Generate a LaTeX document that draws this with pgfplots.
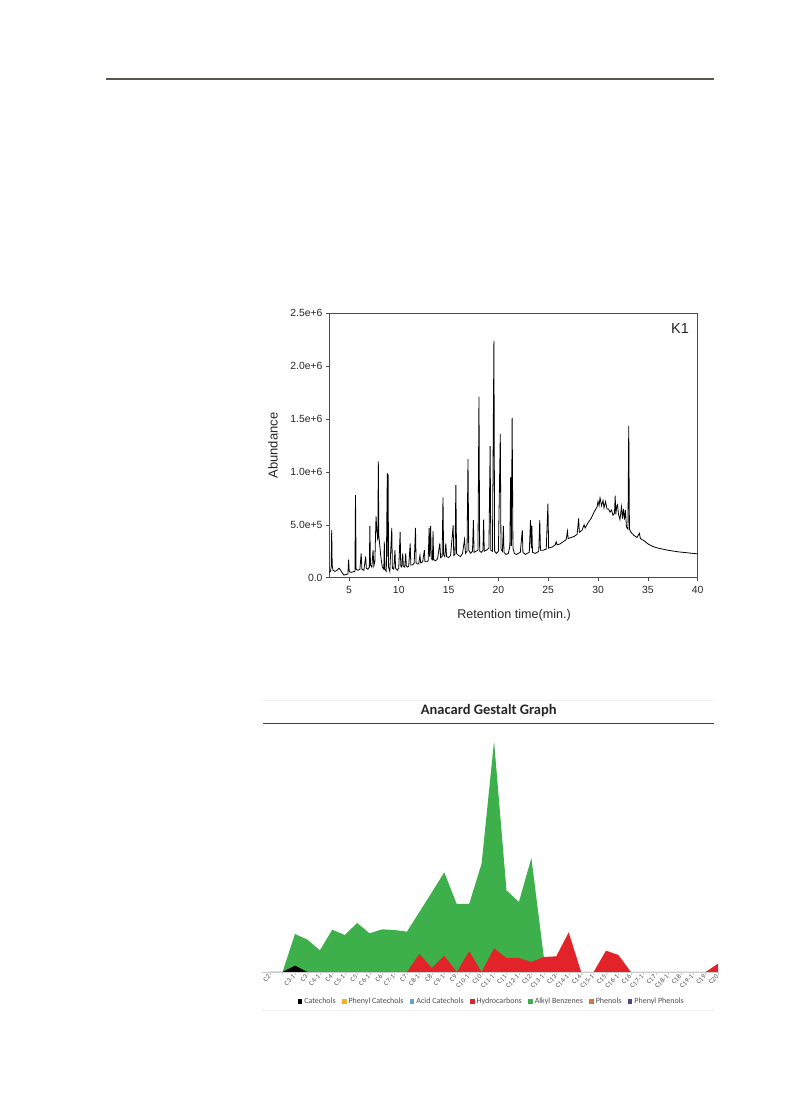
\documentclass[border=0pt]{standalone}
\usepackage{pgfplots}
\pgfplotsset{compat=1.18}
\usepackage{fontspec}
\setmainfont{Liberation Sans}
\newfontfamily\carlito{Carlito}
\definecolor{abgreen}{HTML}{3DB04B}
\definecolor{hcred}{HTML}{E3232A}
\definecolor{phcat}{HTML}{F0B030}
\definecolor{accat}{HTML}{5BA5D8}
\definecolor{phen}{HTML}{E07040}
\definecolor{phph}{HTML}{5B3F8F}
\definecolor{rulebrown}{HTML}{5C534A}
\begin{document}
\begin{tikzpicture}
\path[use as bounding box] (0pt,0pt) rectangle (799pt,1093pt);
\draw[color=rulebrown, line width=1.2pt] (106pt,1014pt) -- (714pt,1014pt);
% ---------- chromatogram ----------
\begin{axis}[at={(329pt,515.3pt)}, anchor=south west, scale only axis,
  width=368.7pt, height=264.4pt,
  xmin=3, xmax=40, ymin=0, ymax=2.5e6,
  xtick={5,10,...,40},
  ytick={0,5e5,1e6,1.5e6,2e6,2.5e6},
  yticklabels={0.0,5.0e+5,1.0e+6,1.5e+6,2.0e+6,2.5e+6},
  scaled y ticks=false,
  tick align=outside, tick pos=left, major tick length=3pt,
  axis line style={draw=black!70, line width=0.8pt},
  tick style={black!70, line width=0.6pt},
  ticklabel style={font=\fontsize{10.4}{12}\selectfont, text=black!85},
  xticklabel style={yshift=-2.5pt},
  /pgf/number format/assume math mode=true,
  xlabel={Retention time(min.)}, ylabel={Abundance},
  xlabel style={font=\fontsize{12.6}{14}\selectfont, text=black!85, at={(axis description cs:0.502,-0.141)}, anchor=center},
  ylabel style={font=\fontsize{13}{15}\selectfont, text=black!85, at={(axis description cs:-0.152,0.5)}, anchor=center},
  clip=true]
\addplot[black, line width=0.8pt] coordinates {
(3.0,0.5e5)(3.15,0.6e5)(3.22,1.0e5)(3.27,4.5e5)(3.32,1.2e5)(3.4,0.7e5)(3.6,0.6e5)(3.8,0.7e5)
(4.0,0.9e5)(4.1,0.8e5)(4.3,0.5e5)(4.5,0.25e5)(4.7,0.3e5)(4.9,0.35e5)(4.97,1.7e5)(5.03,0.6e5)
(5.2,0.5e5)(5.4,0.55e5)(5.6,0.6e5)(5.66,7.8e5)(5.72,0.8e5)(5.9,0.7e5)(6.1,0.8e5)(6.23,2.3e5)
(6.3,0.8e5)(6.5,0.7e5)(6.68,2.0e5)(6.75,0.9e5)(6.9,0.8e5)(7.05,1.0e5)(7.1,4.9e5)(7.16,1.2e5)
(7.3,1.0e5)(7.42,2.6e5)(7.5,1.1e5)(7.6,1.5e5)(7.72,5.8e5)(7.8,4.5e5)(7.9,3.5e5)(7.95,11.0e5)
(8.0,4.0e5)(8.1,3.0e5)(8.2,2.0e5)(8.35,1.0e5)(8.5,0.8e5)(8.55,3.4e5)(8.6,0.8e5)(8.75,0.6e5)
(8.85,9.9e5)(8.9,2.0e5)(8.93,9.8e5)(8.98,1.0e5)(9.1,0.6e5)(9.3,4.7e5)(9.36,0.9e5)(9.5,0.8e5)
(9.62,2.6e5)(9.68,0.9e5)(9.85,0.7e5)(10.0,0.9e5)(10.14,4.3e5)(10.2,1.1e5)(10.3,1.0e5)(10.4,2.3e5)
(10.46,1.1e5)(10.6,1.0e5)(10.7,2.3e5)(10.76,1.1e5)(10.9,1.0e5)(11.0,1.1e5)(11.15,3.25e5)(11.21,1.2e5)
(11.4,1.2e5)(11.55,1.4e5)(11.68,4.7e5)(11.74,1.4e5)(11.9,1.3e5)(12.0,1.3e5)(12.13,2.1e5)(12.2,1.4e5)
(12.4,1.5e5)(12.57,2.6e5)(12.63,1.5e5)(12.8,1.5e5)(12.95,1.6e5)(13.05,4.7e5)(13.1,2.0e5)(13.2,4.9e5)
(13.26,1.8e5)(13.38,1.7e5)(13.44,4.4e5)(13.5,1.7e5)(13.7,1.6e5)(13.9,1.8e5)(14.12,3.25e5)(14.2,1.9e5)
(14.35,2.0e5)(14.44,7.6e5)(14.5,2.2e5)(14.62,2.0e5)(14.72,3.25e5)(14.8,2.0e5)(15.0,1.9e5)(15.2,2.1e5)
(15.46,4.95e5)(15.52,2.1e5)(15.65,2.2e5)(15.73,8.75e5)(15.8,2.3e5)(16.0,2.1e5)(16.2,2.0e5)(16.4,2.3e5)
(16.6,3.6e5)(16.7,2.3e5)(16.85,2.5e5)(16.95,11.2e5)(17.02,2.6e5)(17.2,2.3e5)(17.4,2.5e5)(17.49,5.45e5)
(17.56,2.4e5)(17.75,2.5e5)(17.95,2.6e5)(18.05,17.1e5)(18.12,2.5e5)(18.3,2.4e5)(18.45,2.6e5)(18.52,5.5e5)
(18.58,2.5e5)(18.8,2.6e5)(19.05,2.8e5)(19.17,12.45e5)(19.24,2.6e5)(19.4,2.5e5)(19.55,22.4e5)(19.62,2.5e5)
(19.8,2.3e5)(20.0,2.5e5)(20.19,13.6e5)(20.26,2.7e5)(20.4,2.5e5)(20.5,4.9e5)(20.56,2.4e5)(20.75,2.2e5)
(21.0,2.3e5)(21.15,3.0e5)(21.23,9.5e5)(21.3,3.0e5)(21.38,15.1e5)(21.46,2.8e5)(21.6,2.3e5)(21.8,2.2e5)
(22.0,2.3e5)(22.2,2.4e5)(22.4,4.5e5)(22.46,2.4e5)(22.7,2.2e5)(22.9,2.3e5)(23.1,2.4e5)(23.22,5.45e5)
(23.3,2.8e5)(23.36,4.9e5)(23.42,2.4e5)(23.7,2.3e5)(23.9,2.4e5)(24.05,2.5e5)(24.15,5.45e5)(24.22,2.6e5)
(24.5,2.6e5)(24.8,2.7e5)(24.97,7.0e5)(25.04,2.8e5)(25.4,2.9e5)(25.7,3.1e5)(25.8,3.4e5)(25.9,3.1e5)
(26.2,3.2e5)(26.5,3.4e5)(26.8,3.6e5)(26.93,4.4e5)(27.0,3.7e5)(27.3,3.8e5)(27.6,3.9e5)(27.9,4.1e5)
(28.05,5.6e5)(28.12,4.3e5)(28.4,4.5e5)(28.6,5.0e5)(28.7,4.7e5)(29.0,5.2e5)(29.3,5.6e5)(29.6,6.2e5)
(29.9,6.7e5)(30.0,7.2e5)(30.1,6.8e5)(30.2,7.55e5)(30.35,6.8e5)(30.5,7.3e5)(30.6,6.6e5)(30.75,7.2e5)
(30.9,6.5e5)(31.05,6.5e5)(31.2,6.2e5)(31.35,6.4e5)(31.5,5.9e5)(31.65,6.1e5)(31.72,7.75e5)(31.78,6.0e5)
(31.88,6.8e5)(31.95,6.9e5)(32.05,6.0e5)(32.2,5.5e5)(32.35,6.7e5)(32.45,5.6e5)(32.55,6.5e5)(32.65,5.5e5)
(32.75,6.4e5)(32.85,4.8e5)(33.0,4.6e5)(33.08,14.35e5)(33.15,4.6e5)(33.3,4.3e5)(33.6,4.0e5)(33.9,3.8e5)
(34.15,4.2e5)(34.25,3.7e5)(34.6,3.5e5)(35.0,3.2e5)(35.5,2.95e5)(36.0,2.8e5)(37.0,2.6e5)(38.0,2.45e5)
(39.0,2.35e5)(40.0,2.25e5)
};
\node[font=\fontsize{14.5}{16}\selectfont, text=black!85] at (axis description cs:0.952,0.944) {K1};
\end{axis}
% ---------- Anacard Gestalt Graph ----------
\begin{axis}[at={(262pt,121pt)}, anchor=south west, scale only axis,
  width=456pt, height=247pt,
  xmin=-0.65, xmax=36, ymin=0, ymax=741,
  axis y line=none, axis x line*=bottom,
  x axis line style={draw=black!20, line width=0.6pt},
  xtick={0,...,36}, ytick=\empty,
  xticklabels={C2,{},C3-1,C3,C4-1,C4,C5-1,C5,C6-1,C6,C7-1,C7,C8-1,C8,C9-1,C9,C10-1,C10,C11-1,C11,C12-1,C12,C13-1,C13,C14-1,C14,C15-1,C15,C16-1,C16,C17-1,C17,C18-1,C18,C19-1,C19,C20},
  xticklabel style={rotate=45, anchor=east, font=\carlito\fontsize{6.8}{8}\selectfont, text=black!70, inner sep=1pt},
  tick align=outside, major tick length=3pt, tick style={black!20},
  clip=true,
  legend columns=7,
  legend style={at={(axis description cs:0.504,-0.119)}, anchor=center, draw=none, fill=none,
    font=\carlito\fontsize{8}{9}\selectfont, text=black!70,
    /tikz/every even column/.append style={column sep=4.5pt}},
  legend image code/.code={\fill[#1] (0pt,-2.2pt) rectangle (4.4pt,2.2pt);}]
\addplot[fill=abgreen, draw=none, forget plot] coordinates {
(0,0)(1,0)(2,114)(3,97)(4,65)(5,127)(6,111)(7,147)(8,116)(9,128)(10,126)(11,121)
(12,180)(13,239)(14,299)(15,204)(16,204)(17,325)(18,692)(19,245)(20,210)(21,342)(22,45)
} \closedcycle;
\addplot[fill=hcred, draw=none, forget plot] coordinates {
(0,0)(11,0)(12,54)(13,12)(14,49)(15,0)(16,62)(17,0)(18,71)(19,42)(20,42)(21,30)(22,45)
(23,47)(24,119)(25,0)(26,0)(27,64)(28,51)(29,0)(35,0)(36,25)
} \closedcycle;
\addplot[fill=black, draw=none, forget plot] coordinates {
(1,0)(2,19)(3,0)
} \closedcycle;
\addlegendimage{fill=black, draw=none}
\addlegendentry{Catechols}
\addlegendimage{fill=phcat, draw=none}
\addlegendentry{Phenyl Catechols}
\addlegendimage{fill=accat, draw=none}
\addlegendentry{Acid Catechols}
\addlegendimage{fill=hcred, draw=none}
\addlegendentry{Hydrocarbons}
\addlegendimage{fill=abgreen, draw=none}
\addlegendentry{Alkyl Benzenes}
\addlegendimage{fill=phen, draw=none}
\addlegendentry{Phenols}
\addlegendimage{fill=phph, draw=none}
\addlegendentry{Phenyl Phenols}
\end{axis}
\node[font=\carlito\bfseries\fontsize{14.5}{17}\selectfont, text=black!85, anchor=base] at (488.8pt,378pt) {Anacard Gestalt Graph};
\draw[black!75, line width=0.9pt] (263pt,369.7pt) -- (714pt,369.7pt);
\draw[black!6, line width=0.6pt] (262pt,393pt) -- (714pt,393pt);
\draw[black!6, line width=0.6pt] (262pt,83pt) -- (714pt,83pt);
\end{tikzpicture}
\end{document}
